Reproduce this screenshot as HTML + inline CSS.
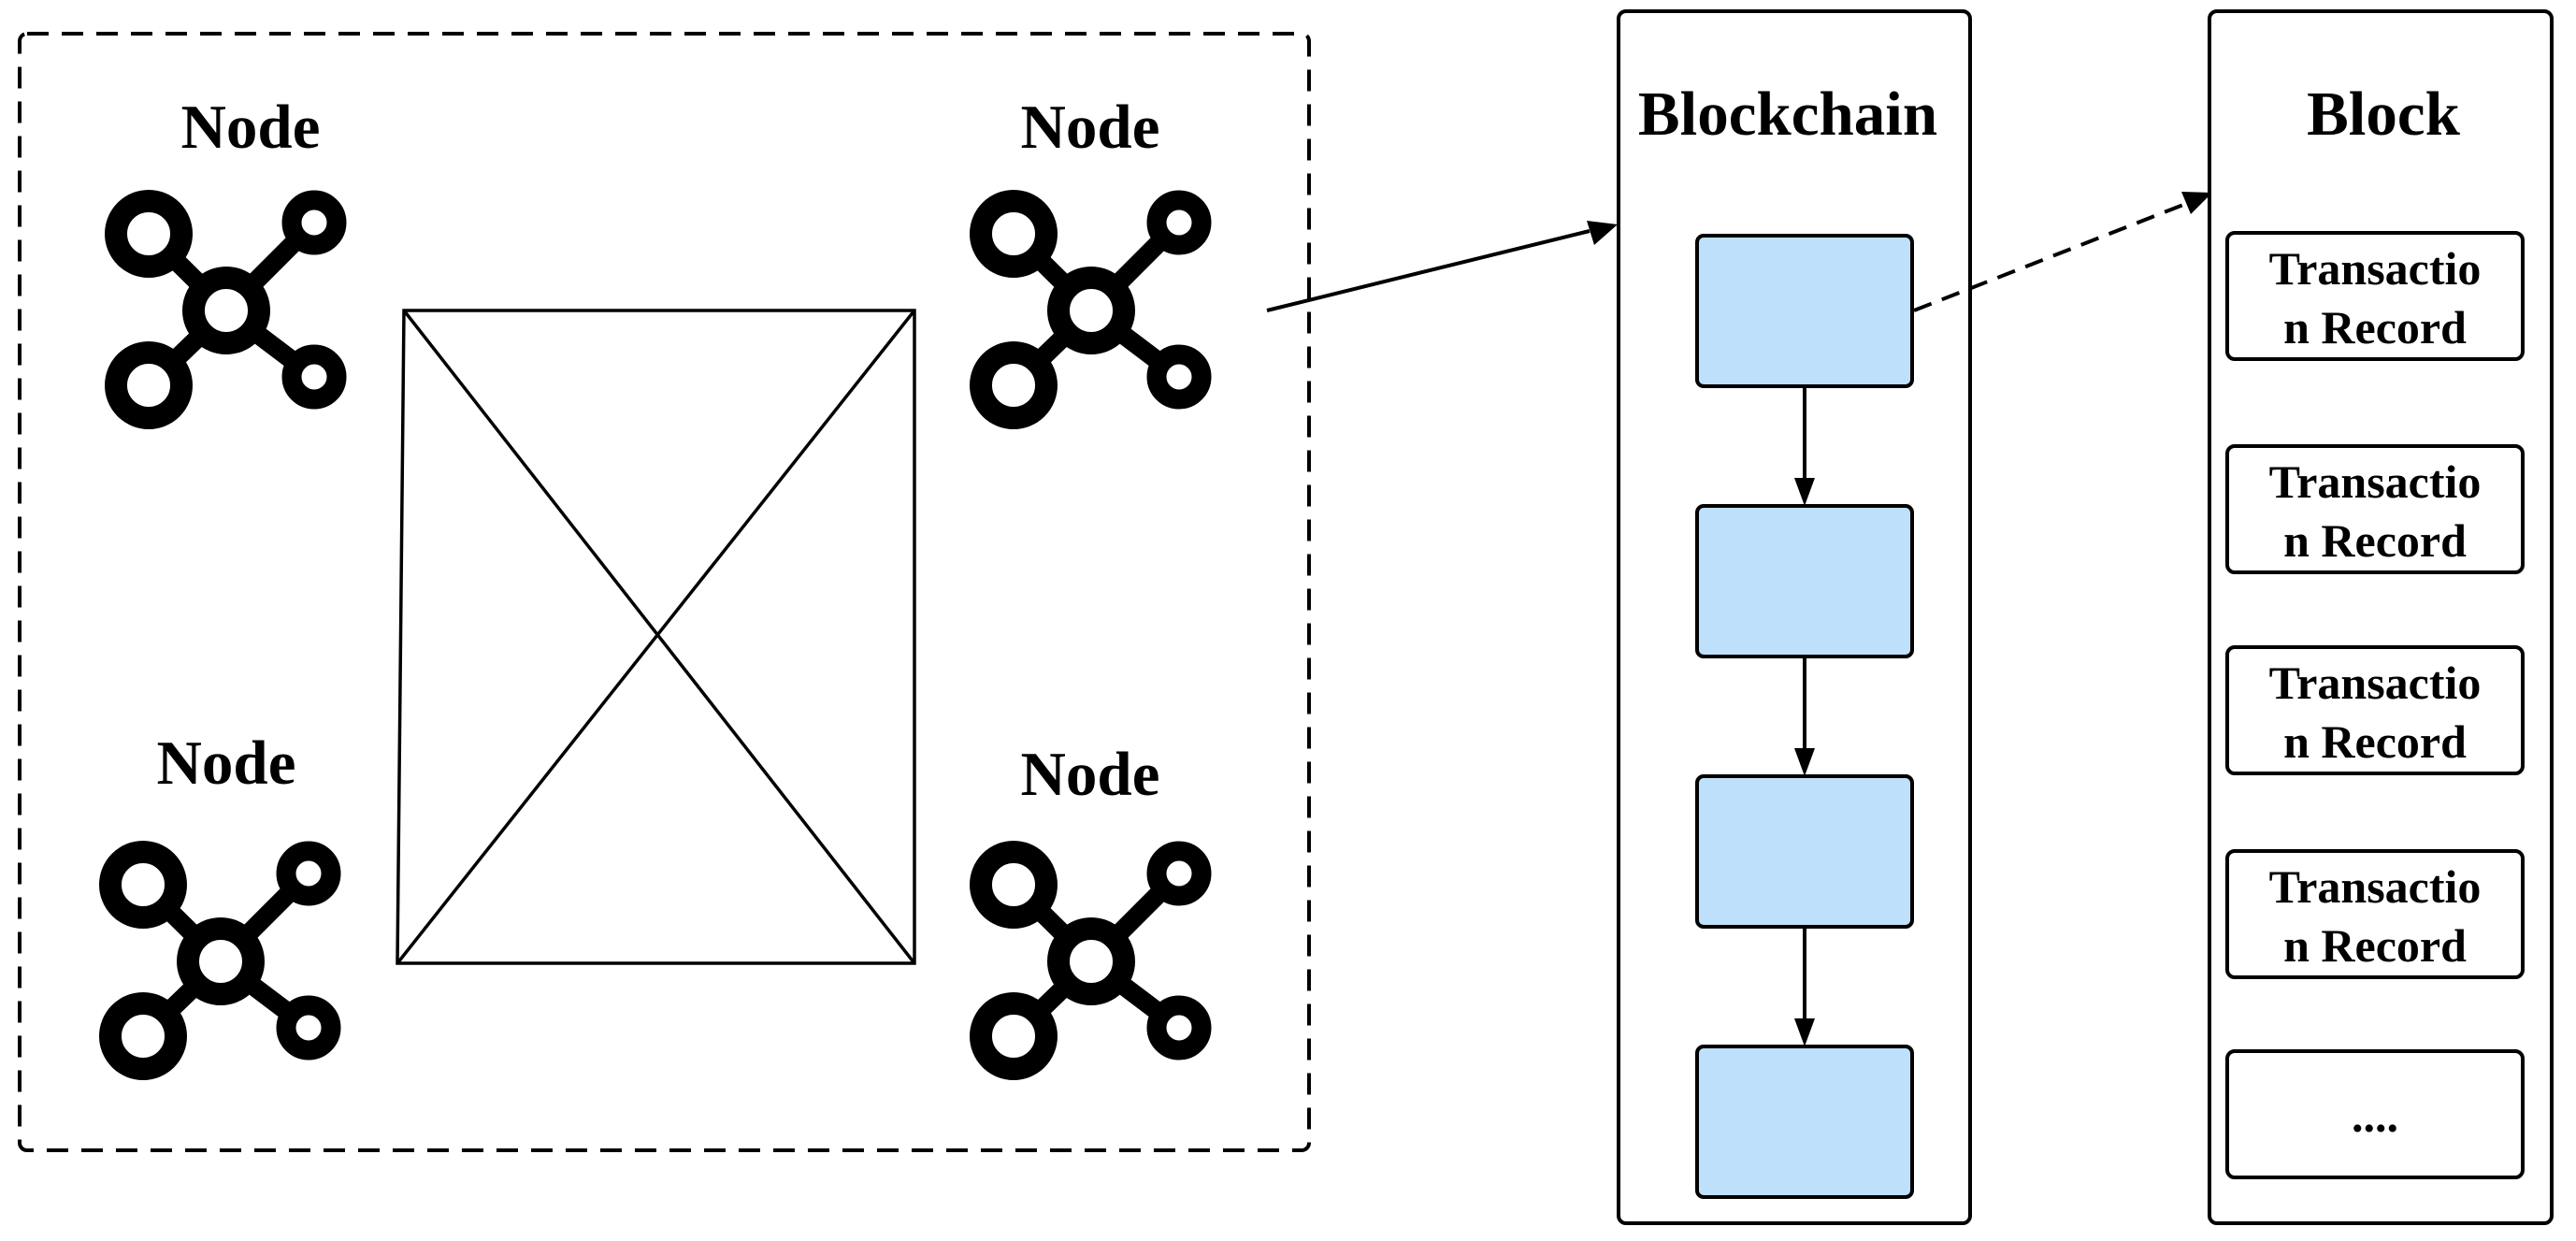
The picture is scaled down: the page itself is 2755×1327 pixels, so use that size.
<!DOCTYPE html>
<html><head><meta charset="utf-8"><style>html,body{margin:0;padding:0;background:#fff}svg{display:block}text{font-family:"Liberation Serif",serif;font-weight:bold;fill:#000}</style></head>
<body>
<svg width="2755" height="1327" viewBox="0 0 2755 1327" xmlns="http://www.w3.org/2000/svg">
<defs>
<marker id="ah" markerWidth="10" markerHeight="8" refX="9" refY="4" orient="auto" markerUnits="userSpaceOnUse" viewBox="0 0 10 8">
</marker>
<g id="icon">
<line x1="-83" y1="-82" x2="0" y2="0" stroke="#000" stroke-width="20"/>
<line x1="94" y1="-94" x2="0" y2="0" stroke="#000" stroke-width="20"/>
<line x1="-83" y1="80" x2="0" y2="0" stroke="#000" stroke-width="20"/>
<line x1="94" y1="71" x2="0" y2="0" stroke="#000" stroke-width="20"/>
<circle cx="0" cy="0" r="35" fill="#fff" stroke="#000" stroke-width="24"/>
<circle cx="-83" cy="-82" r="35" fill="#fff" stroke="#000" stroke-width="24"/>
<circle cx="-83" cy="80" r="35" fill="#fff" stroke="#000" stroke-width="24"/>
<circle cx="94" cy="-94" r="24" fill="#fff" stroke="#000" stroke-width="21"/>
<circle cx="94" cy="71" r="24" fill="#fff" stroke="#000" stroke-width="21"/>
</g>
</defs>
<!-- dashed container -->
<rect x="21" y="36" width="1379" height="1194" rx="8" fill="none" stroke="#000" stroke-width="4" stroke-dasharray="23 14"/>
<!-- X square -->
<g stroke="#000" stroke-width="3.5" fill="none">
<polygon points="432,332 978,332 978,1030 425,1030"/>
<line x1="432" y1="332" x2="978" y2="1030"/>
<line x1="978" y1="332" x2="425" y2="1030"/>
</g>
<!-- nodes -->
<use href="#icon" x="242" y="332"/>
<use href="#icon" x="1167" y="332"/>
<use href="#icon" x="236" y="1028"/>
<use href="#icon" x="1167" y="1028"/>
<text x="268" y="158" font-size="67" text-anchor="middle">Node</text>
<text x="1166" y="158" font-size="67" text-anchor="middle">Node</text>
<text x="242" y="838" font-size="67" text-anchor="middle">Node</text>
<text x="1166" y="850" font-size="67" text-anchor="middle">Node</text>
<!-- arrow to blockchain -->
<line x1="1355" y1="332" x2="1700" y2="247" stroke="#000" stroke-width="4"/>
<polygon points="1730,240 1697,236 1705,262" fill="#000"/>
<!-- blockchain -->
<rect x="1731" y="12" width="376" height="1296" rx="8" fill="#fff" stroke="#000" stroke-width="4"/>
<text x="1912" y="144" font-size="67" text-anchor="middle">Blockchain</text>
<g fill="#bfe0fa" stroke="#000" stroke-width="4">
<rect x="1815" y="252" width="230" height="161" rx="7"/>
<rect x="1815" y="541" width="230" height="161" rx="7"/>
<rect x="1815" y="830" width="230" height="161" rx="7"/>
<rect x="1815" y="1119" width="230" height="161" rx="7"/>
</g>
<g stroke="#000" stroke-width="4">
<line x1="1930" y1="413" x2="1930" y2="515"/>
<line x1="1930" y1="702" x2="1930" y2="804"/>
<line x1="1930" y1="991" x2="1930" y2="1093"/>
</g>
<g fill="#000">
<polygon points="1930,541 1919,511 1941,511"/>
<polygon points="1930,830 1919,800 1941,800"/>
<polygon points="1930,1119 1919,1089 1941,1089"/>
</g>
<!-- dashed arrow to block -->
<line x1="2047" y1="332" x2="2340" y2="217" stroke="#000" stroke-width="4" stroke-dasharray="20 12"/>
<polygon points="2366,206 2333,205 2343,229" fill="#000"/>
<!-- block -->
<rect x="2363" y="12" width="366" height="1296" rx="8" fill="#fff" stroke="#000" stroke-width="4"/>
<text x="2549" y="144" font-size="67" text-anchor="middle">Block</text>
<g fill="#fff" stroke="#000" stroke-width="4">
<rect x="2382" y="249" width="316" height="135" rx="8"/>
<rect x="2382" y="477" width="316" height="135" rx="8"/>
<rect x="2382" y="692" width="316" height="135" rx="8"/>
<rect x="2382" y="910" width="316" height="135" rx="8"/>
<rect x="2382" y="1124" width="316" height="135" rx="8"/>
</g>
<g font-size="50" text-anchor="middle">
<text x="2540" y="304">Transactio</text><text x="2540" y="367">n Record</text>
<text x="2540" y="532">Transactio</text><text x="2540" y="595">n Record</text>
<text x="2540" y="747">Transactio</text><text x="2540" y="810">n Record</text>
<text x="2540" y="965">Transactio</text><text x="2540" y="1028">n Record</text>
<text x="2540" y="1210">....</text>
</g>
</svg>
</body></html>
